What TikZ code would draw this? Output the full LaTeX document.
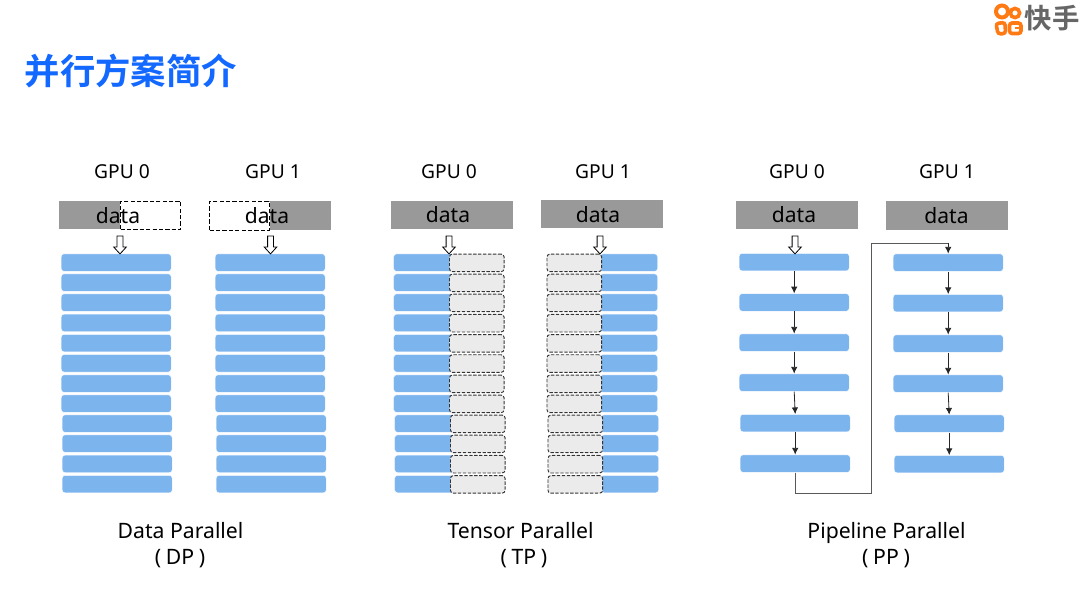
\documentclass[tikz,border=0pt]{standalone}
\usepackage{fontspec}
\setmainfont{Noto Sans}
\newfontfamily\cjkfont{Noto Sans CJK SC}
\newfontfamily\cjkbold[BoldFont=Noto Sans CJK SC Bold]{Noto Sans CJK SC}
\usetikzlibrary{arrows.meta,shapes.arrows}
\definecolor{layerblue}{HTML}{7CB4EE}
\definecolor{barGray}{HTML}{999999}
\definecolor{lightGray}{HTML}{EBEBEB}
\definecolor{titleBlue}{HTML}{1268FF}
\definecolor{logoOrange}{HTML}{FF7A12}
\definecolor{logoGray}{HTML}{666666}
\tikzset{
  layer/.style={anchor=north west,fill=layerblue,draw=white,line width=0.3pt,rounded corners=2.2pt,minimum width=82.5pt,minimum height=13.2pt,inner sep=0pt,yshift=0.3pt},
  halflayer/.style={layer,minimum width=44pt},
  ghost/.style={anchor=north west,fill=lightGray,draw=black!80,dash pattern=on 2.5pt off 1.2pt,line width=0.7pt,rounded corners=2.2pt,minimum width=41pt,minimum height=13.2pt,inner sep=0pt,yshift=0.3pt},
  bar/.style={anchor=north west,fill=barGray,draw=none,minimum width=91.5pt,minimum height=21.5pt,inner sep=0pt},
  halfbar/.style={bar,minimum width=45.5pt},
  dashbar/.style={anchor=north west,fill=white,draw=black,dash pattern=on 3.2pt off 1.6pt,line width=0.75pt,minimum width=45pt,minimum height=21.5pt,inner sep=0pt},
  gpu/.style={font=\fontsize{14.4pt}{16pt}\selectfont,inner sep=0pt,anchor=base},
  datatxt/.style={font=\fontsize{15.8pt}{18pt}\selectfont,inner sep=0pt,anchor=base},
  caption/.style={font=\fontsize{15.9pt}{18pt}\selectfont,inner sep=0pt,anchor=base},
  feed/.style={single arrow,draw=black,fill=white,line width=0.6pt,shape border rotate=270,minimum width=9.4pt,minimum height=13.5pt,single arrow head extend=2.2pt,single arrow tip angle=85,inner sep=1.6pt,anchor=tip},
  flow/.style={draw=black!85,line width=0.6pt,-{Latex[length=5pt,width=4.8pt]}},
  route/.style={draw=black!65,line width=0.7pt},
}
\begin{document}
\begin{tikzpicture}[x=0.75pt,y=-0.75pt]
\useasboundingbox (0,0) rectangle (1080,589);
\fill[white] (0,0) rectangle (1080,589);

% title
\node[anchor=west,inner sep=0pt,text=titleBlue,font=\fontsize{26.5pt}{30pt}\selectfont\cjkbold\bfseries] (title) at (24.5,71) {并行方案简介};

% logo
\begin{scope}[logoOrange]
  \draw[line width=3pt] (1002,11.5) circle (6);
  \draw[line width=2.7pt] (1015,13) circle (4.6);
  \draw[line width=2.7pt,rounded corners=2pt] (996,23.5) -- (1005,22.5) -- (1005.5,33.5) -- (998,34) -- cycle;
  \draw[line width=2.7pt,rounded corners=2pt] (1009.5,23) -- (1021,23) -- (1021,33.5) -- (1009.5,33.5) -- cycle;
  \fill (1015,26.5) rectangle (1021,29);
\end{scope}
\node[anchor=west,inner sep=0pt,text=logoGray,font=\fontsize{20.5pt}{22pt}\selectfont\cjkbold\bfseries] (logotext) at (1024.5,18.5) {快手};

% GPU labels
\foreach \n/\x/\t in {g1/122/GPU 0,g2/273/GPU 1,g3/449/GPU 0,g4/603/GPU 1,g5/797/GPU 0,g6/947/GPU 1}
  \node[gpu] (\n) at (\x,178) {\t};

% DP
\node[halfbar] (dpbarA) at (59,200.5) {};
\node[dashbar] (dpdashA) at (120,200.5) {};
\node[datatxt] (dpdataA) at (118,223.5) {data};
\node[halfbar,minimum width=46.5pt] (dpbarB) at (269,201) {};
\node[dashbar] (dpdashB) at (209,201) {};
\node[datatxt] (dpdataB) at (267,223.5) {data};
\foreach \i/\y/\d in {1/254/0,2/274/0,3/294/0,4/314.3/0,5/334.5/0,6/354.7/0,7/375/0,8/395/0,9/415/1,10/435/1,11/455.3/1,12/475.5/1}{
  \pgfmathsetmacro{\xa}{61+\d}
  \pgfmathsetmacro{\xb}{215+\d}
  \node[layer] (dpa\i) at (\xa,\y) {};
  \node[layer] (dpb\i) at (\xb,\y) {};
}
\node[feed] (dpfa) at (120,254.5) {};
\node[feed] (dpfb) at (270.5,254.5) {};

% TP
\node[bar] (tpbarA) at (391,200.5) {};
\node[datatxt] (tpdataA) at (448,222.8) {data};
\node[bar] (tpbarB) at (541,199.5) {};
\node[datatxt] (tpdataB) at (598,222.3) {data};
\foreach \i/\y/\d in {1/254/0,2/274/0,3/294/0,4/314.3/0,5/334.5/0,6/354.7/0,7/375/0,8/395/0,9/415/1,10/435/1,11/455.3/1,12/475.5/1}{
  \pgfmathsetmacro{\xa}{393.5+\d}
  \pgfmathsetmacro{\xb}{449+\d}
  \pgfmathsetmacro{\xc}{600+\d}
  \pgfmathsetmacro{\xd}{546.5+\d}
  \node[halflayer,minimum width=45pt] (tpa\i) at (\xa,\y) {};
  \node[ghost] (tpg\i) at (\xb,\y) {};
  \node[halflayer,minimum width=43pt] (tpb\i) at (\xc,\y) {};
  \node[ghost] (tph\i) at (\xd,\y) {};
}
\node[feed] (tpfa) at (449,254.5) {};
\node[feed] (tpfb) at (600,254.5) {};

% PP
\node[bar] (ppbarA) at (736,200.5) {};
\node[datatxt] (ppdataA) at (794,222.8) {data};
\node[bar] (ppbarB) at (886,201) {};
\node[datatxt] (ppdataB) at (946.5,223.5) {data};
\foreach \i/\y/\d in {1/253.5/0,2/293.8/0,3/334/0,4/374/0,5/414.5/1,6/455/1}
  \node[layer] (ppa\i) at (739+\d,\y) {};
\foreach \i/\y/\d in {1/254/0,2/294.5/0,3/335/0,4/375/0,5/415/1,6/455.5/1}
  \node[layer] (ppb\i) at (893+\d,\y) {};
\node[feed] (ppf) at (795,254.5) {};
\foreach \c in {a,b}{
  \foreach \i/\j in {1/2,2/3,3/4,4/5,5/6}
    \draw[flow] (pp\c\i.south) -- (pp\c\j.north);
}
\coordinate (turnA) at (871,493);
\coordinate (turnB) at (871,243);
\draw[route] (ppa6.south) |- (turnA) -- (turnB) -- (turnB -| ppb1.north);
\draw[flow] (turnB -| ppb1.north) -- (ppb1.north);

% captions
\node[caption] (capa) at (180.5,538.7) {Data Parallel};
\node[caption] (capb) at (180,564.5) {(\hspace{3.5pt}DP\hspace{3.5pt})};
\node[caption] (capc) at (520.5,538.7) {Tensor Parallel};
\node[caption] (capd) at (524,564.5) {(\hspace{3.5pt}TP\hspace{3.5pt})};
\node[caption] (cape) at (886.5,538.7) {Pipeline Parallel};
\node[caption] (capf) at (886,564.5) {(\hspace{3.5pt}PP\hspace{3.5pt})};
\end{tikzpicture}
\end{document}
